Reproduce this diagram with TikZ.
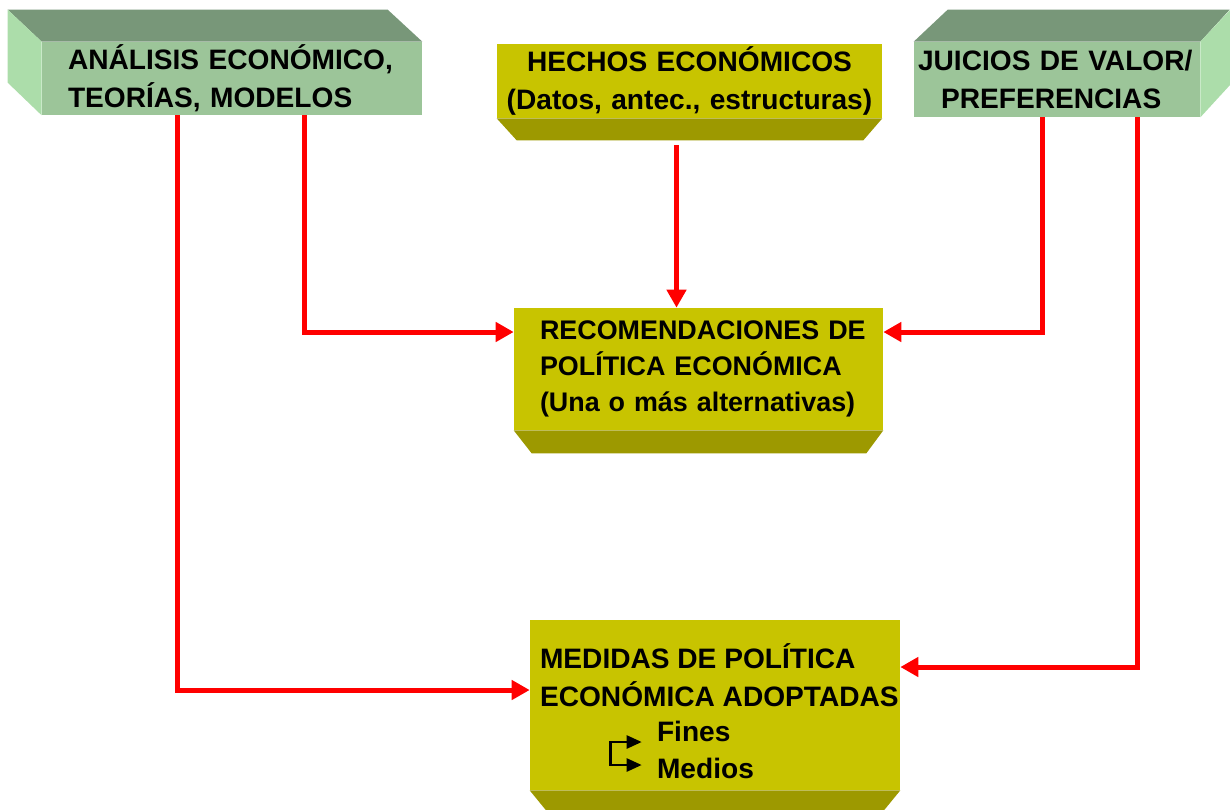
\documentclass[tikz,border=0pt]{standalone}
\usepackage{fontspec}
\setmainfont{Liberation Sans}
\usetikzlibrary{arrows.meta,calc}

\definecolor{greenfront}{RGB}{156,197,153}
\definecolor{greentop}{RGB}{120,151,121}
\definecolor{greenside}{RGB}{172,221,170}
\definecolor{olivefront}{RGB}{200,196,0}
\definecolor{olivebottom}{RGB}{157,153,0}

\begin{document}
\begin{tikzpicture}[x=0.02cm, y=-0.02cm]
        \tikzstyle{green box}=[rectangle, fill=greenfront, inner ysep=0pt, align=left, font=\bfseries\fontsize{16}{21.5}\selectfont]
        \tikzstyle{olive box}=[rectangle, fill=olivefront, inner ysep=0pt, align=left, font=\bfseries\fontsize{16}{21.5}\selectfont]
        \tikzstyle{txt}=[inner sep=0pt, align=left, font=\bfseries\fontsize{16}{21.5}\selectfont]
        \tikzstyle{link}=[draw=red, line width=0.1cm, -{Triangle[length=0.36cm,width=0.38cm]}]
        \tikzstyle{fork}=[line width=0.05cm, {Triangle[length=0.3cm,width=0.26cm]}-{Triangle[length=0.3cm,width=0.26cm]}]

        \useasboundingbox (0,0) rectangle (1230,809);

        % Analysis
        \node (ana) [green box, minimum width=7.6cm, minimum height=1.46cm, text width=6.56cm, inner xsep=0.52cm] at (232,78.5) {\mbox{ANÁLISIS ECONÓMICO,}\\\mbox{TEORÍAS, MODELOS}};
        \fill[greentop] (ana.north west) -- ++(-34,-32) -- ++(380,0) -- (ana.north east) -- cycle;
        \fill[greenside] (ana.north west) -- ++(-34,-32) -- ++(0,73) -- (ana.south west) -- cycle;

        % Facts
        \node (hec) [olive box, minimum width=7.7cm, minimum height=1.48cm, text width=7.5cm, align=center, inner xsep=0.1cm] at (689.5,81) {HECHOS ECONÓMICOS\\(Datos, antec., estructuras)};
        \fill[olivebottom] (hec.south west) -- ++(20,22) -- ($(hec.south east)+(-19,22)$) -- (hec.south east) -- cycle;

        % Value judgements
        \node (jui) [green box, minimum width=5.72cm, minimum height=1.5cm, text width=5.56cm, inner xsep=0.08cm] at (1057,79.5) {\mbox{JUICIOS DE VALOR/}\\\hspace*{0.46cm}PREFERENCIAS};
        \fill[greentop] (jui.north west) -- ++(34,-32) -- ++(282,0) -- (jui.north east) -- cycle;
        \fill[greenside] (jui.north east) -- ++(30,-32) -- ++(0,75) -- (jui.south east) -- cycle;

        % Recommendations
        \node (rec) [olive box, minimum width=7.38cm, minimum height=2.44cm, text width=6.34cm, inner xsep=0.52cm, font=\bfseries\fontsize{15.3}{20.5}\selectfont] at (698.5,369) {\mbox{RECOMENDACIONES DE}\\\mbox{POLÍTICA ECONÓMICA}\\\mbox{(Una o más alternativas)}};
        \fill[olivebottom] (rec.south west) -- ++(18,23) -- ($(rec.south east)+(-17,23)$) -- (rec.south east) -- cycle;

        % Measures
        \node (med) [olive box, minimum width=7.4cm, minimum height=3.4cm] at (715,705) {};
        \fill[olivebottom] (med.south west) -- ++(18,22) -- ($(med.south east)+(-18,22)$) -- (med.south east) -- cycle;
        \node (medtxt) [txt, anchor=west] at ($(med.west)+(10,-30)$) {MEDIDAS DE POLÍTICA\\ECONÓMICA ADOPTADAS};
        \node (fines) [txt, anchor=west] at ($(med.west)+(127,26)$) {Fines};
        \node (medios) [txt, anchor=west] at ($(med.west)+(127,63)$) {Medios};
        \draw[fork] ($(fines.west)+(-15,11)$) -| ($(medios.west)+(-46,-3)$) -- ($(medios.west)+(-15,-3)$);

        % Arrows
        \draw[link] ($(ana.south west)+(136,0)$) |- ($(med.west)+(0,-15)$);
        \draw[link] ($(ana.south west)+(263,0)$) |- ($(rec.west)+(0,-37)$);
        \coordinate (hfoot) at ($(hec.south)+(-13,27)$);
        \draw[link] (hfoot) -- (hfoot |- rec.north);
        \draw[link] ($(jui.south west)+(129,0)$) |- ($(rec.east)+(0,-37)$);
        \draw[link] ($(jui.south west)+(224,0)$) |- ($(med.east)+(0,-38)$);
    \end{tikzpicture}
\end{document}
